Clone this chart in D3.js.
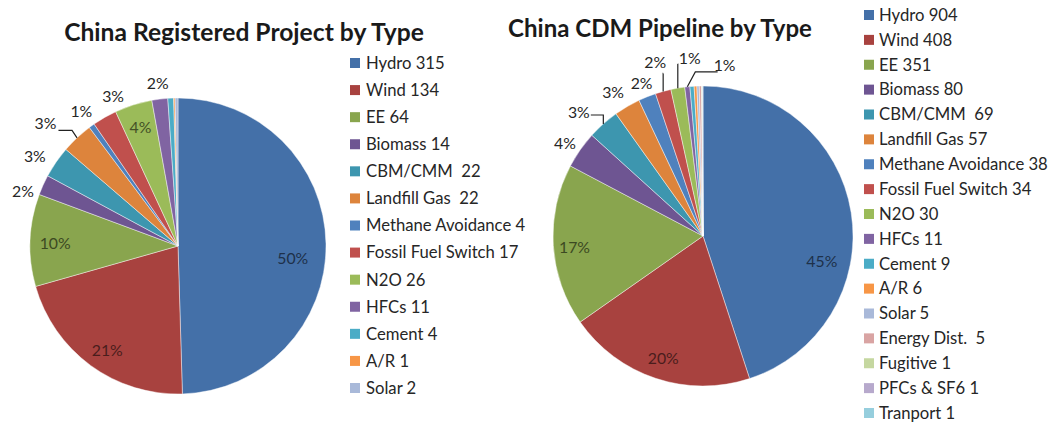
<!DOCTYPE html>
<html>
<head>
<meta charset="utf-8">
<script src="https://cdn.jsdelivr.net/npm/d3@7"></script>
<style>
  html, body { margin: 0; padding: 0; background: #fff; }
  svg { display: block; }
  text { font-family: Lato, "Open Sans", sans-serif; }
</style>
</head>
<body>
<svg id="chart" width="1062" height="423"></svg>
<script>
// ---------------- DATA ----------------
const regTitle = "China Registered Project by Type";
const regCategories = ["Hydro", "Wind", "EE", "Biomass", "CBM/CMM", "Landfill Gas", "Methane Avoidance",
  "Fossil Fuel Switch", "N2O", "HFCs", "Cement", "A/R", "Solar"];
const regLegendLabels = ["Hydro 315", "Wind 134", "EE 64", "Biomass 14", "CBM/CMM  22", "Landfill Gas  22",
  "Methane Avoidance 4", "Fossil Fuel Switch 17", "N2O 26", "HFCs 11", "Cement 4", "A/R 1", "Solar 2"];
const regValues = [315, 134, 64, 14, 22, 22, 4, 17, 26, 11, 4, 1, 2];
const regPctLabels = ["50%", "21%", "10%", "2%", "3%", "3%", "1%", "3%", "4%", "2%", null, null, null];

const cdmTitle = "China CDM Pipeline by Type";
const cdmCategories = ["Hydro", "Wind", "EE", "Biomass", "CBM/CMM", "Landfill Gas", "Methane Avoidance",
  "Fossil Fuel Switch", "N2O", "HFCs", "Cement", "A/R", "Solar", "Energy Dist.", "Fugitive", "PFCs & SF6", "Tranport"];
const cdmLegendLabels = ["Hydro 904", "Wind 408", "EE 351", "Biomass 80", "CBM/CMM  69", "Landfill Gas 57",
  "Methane Avoidance 38", "Fossil Fuel Switch 34", "N2O 30", "HFCs 11", "Cement 9", "A/R 6", "Solar 5",
  "Energy Dist.  5", "Fugitive 1", "PFCs & SF6 1", "Tranport 1"];
const cdmValues = [904, 408, 351, 80, 69, 57, 38, 34, 30, 11, 9, 6, 5, 5, 1, 1, 1];
const cdmPctLabels = ["45%", "20%", "17%", "4%", "3%", "3%", "2%", "2%", "1%", "1%", null, null, null, null, null, null, null];

// ---------------- STYLE / LAYOUT ----------------
const palette = ["#4470a8", "#a8423f", "#89a54e", "#6e5592", "#3d96af", "#dd843c",
  "#4f81bd", "#c0504d", "#9bbb59", "#8064a2", "#4bacc6", "#f79646",
  "#a9b9d9", "#d9a4a3", "#c5d7a0", "#b7a9cc", "#96cedd"];

// label placement: [angle offset (deg), radius ratio, inside?]
const regLabelLayout = [[7, 0.78, 1], [-2, 0.85, 1], [-1, 0.83, 1], [-5, 1.11, 0], [-2.6, 1.14, 0],
  [-4.2, 1.22, 0], [0, 1.12, 0], [6.2, 1.10, 0], [0, 0.84, 1], [0, 1.11, 0]];
const cdmLabelLayout = [[21, 0.81, 1], [-0.5, 0.86, 1], [-1.5, 0.86, 1], [-1, 1.11, 0], [-3.4, 1.17, 0],
  [-1.7, 1.13, 0], [0, 1.10, 0], [0, 1.20, 0], [5.4, 1.19, 0], [13.2, 1.15, 0]];
// leaders: index -> {end:[dx,dy] rel. to label centre, elbowDx rel. to start}
const regLeaders = { 5: { end: [13, 7], elbowDx: -5 } };
const cdmLeaders = {
  4: { end: [12, 3], elbowDx: 0 },
  7: { end: [8, 11], elbowDx: 0 },
  8: { end: [-12, 6], elbowDx: 0 },
  9: { end: [-7, 7], elbowDx: 8 }
};

const svg = d3.select("#chart");

function fitFont(sel, target) {
  const base = 20;
  sel.style("font-size", base + "px");
  const len = sel.node().getComputedTextLength();
  const size = base * target / len;
  sel.style("font-size", size + "px");
  return size;
}

// measure fonts
const tmp = svg.append("text").text("Methane Avoidance 38");
const legendSize = fitFont(tmp, 169);
tmp.text("45%");
const labelSize = fitFont(tmp, 31);
tmp.remove();

function drawPie(cfg) {
  const g = svg.append("g").attr("transform", `translate(${cfg.cx},${cfg.cy})`);
  const color = d3.scaleOrdinal().domain(cfg.categories).range(palette);
  const pie = d3.pie().sort(null).value(d => d.value);
  const data = cfg.categories.map((c, i) => ({ cat: c, value: cfg.values[i], pct: cfg.pct[i], i }));
  const arcs = pie(data);
  const arc = d3.arc().innerRadius(0).outerRadius(cfg.r);

  g.selectAll("path.slice").data(arcs).join("path")
    .attr("class", "slice")
    .attr("d", arc)
    .attr("fill", d => color(d.data.cat))
    .attr("stroke", "rgba(255,255,255,0.55)")
    .attr("stroke-width", 0.8);

  const polar = (ang, rad) => [Math.sin(ang) * rad, -Math.cos(ang) * rad];

  arcs.forEach((a, idx) => {
    if (!a.data.pct) return;
    const lay = cfg.layout[idx];
    const mid = (a.startAngle + a.endAngle) / 2;
    const ang = mid + lay[0] * Math.PI / 180;
    const [x, y] = polar(ang, cfg.r * lay[1]);
    const fill = lay[2] ? d3.color(color(a.data.cat)).darker(2.3).formatHex() : "#262626";
    g.append("text")
      .attr("x", x).attr("y", y)
      .attr("text-anchor", "middle")
      .attr("dy", "0.36em")
      .style("font-size", labelSize + "px")
      .attr("fill", fill)
      .text(a.data.pct);
    const ld = cfg.leaders[idx];
    if (ld) {
      const [sx, sy] = polar(mid, cfg.r);
      const ex = x + ld.end[0], ey = y + ld.end[1];
      const elx = sx + ld.elbowDx;
      g.append("path")
        .attr("d", `M${sx},${sy}L${elx},${ey}L${ex},${ey}`)
        .attr("fill", "none")
        .attr("stroke", "#222")
        .attr("stroke-width", 1.2);
    }
  });

  // title
  const t = svg.append("text")
    .attr("x", cfg.titleX).attr("y", cfg.titleY)
    .attr("text-anchor", "middle")
    .style("font-weight", 700)
    .attr("fill", "#1a1a1a")
    .text(cfg.title);
  fitFont(t, cfg.titleW);

  // legend
  const yL = d3.scalePoint().domain(cfg.categories).range([cfg.legY0, cfg.legY1]);
  const lg = svg.append("g");
  const rows = lg.selectAll("g.row").data(data).join("g")
    .attr("class", "row")
    .attr("transform", d => `translate(${cfg.legX},${yL(d.cat)})`);
  rows.append("rect")
    .attr("x", 0).attr("y", -5).attr("width", 10).attr("height", 10)
    .attr("fill", d => color(d.cat));
  rows.append("text")
    .attr("x", cfg.legTextDx).attr("y", 0).attr("dy", "0.35em")
    .style("font-size", legendSize + "px")
    .style("white-space", "pre")
    .attr("fill", "#262626")
    .text(d => cfg.legendLabels[d.i]);
}

drawPie({
  title: regTitle, titleX: 244, titleY: 41, titleW: 360,
  categories: regCategories, values: regValues, pct: regPctLabels, legendLabels: regLegendLabels,
  cx: 178, cy: 246, r: 148,
  layout: regLabelLayout, leaders: regLeaders,
  legX: 350, legTextDx: 16, legY0: 63, legY1: 388
});

drawPie({
  title: cdmTitle, titleX: 660, titleY: 37, titleW: 304,
  categories: cdmCategories, values: cdmValues, pct: cdmPctLabels, legendLabels: cdmLegendLabels,
  cx: 703, cy: 236, r: 150,
  layout: cdmLabelLayout, leaders: cdmLeaders,
  legX: 864, legTextDx: 15, legY0: 15, legY1: 413
});
</script>
</body>
</html>
